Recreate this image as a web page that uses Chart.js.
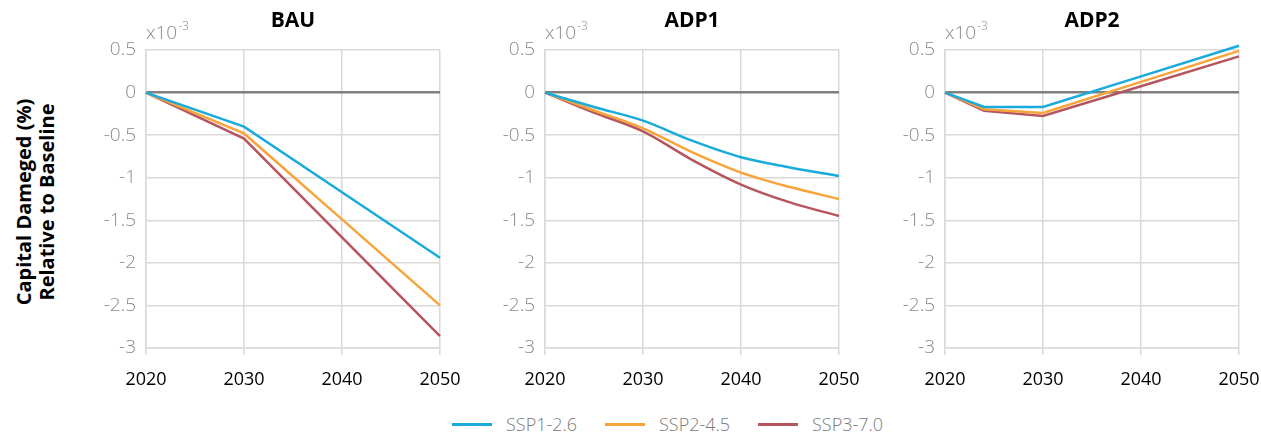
<!DOCTYPE html>
<html>
<head>
<meta charset="utf-8">
<script src="https://cdn.jsdelivr.net/npm/chart.js@4/dist/chart.umd.min.js"></script>
<style>
  body { margin: 0; background: #fff; font-family: "Open Sans", sans-serif; }
  #wrap { position: relative; width: 1261px; height: 435px; overflow: hidden; }
  canvas { position: absolute; top: 0; }
  #ytitle {
    position: absolute; left: -110px; top: 179px; width: 290px;
    transform: rotate(-90deg); text-align: center;
    font-weight: 700; font-size: 20px; line-height: 23px; color: #000;
  }
  #legend { position: absolute; left: 452px; top: 412px; display: flex; align-items: center; }
  .item { display: flex; align-items: center; width: 153px; }
  .swatch { width: 40px; height: 3px; margin-right: 14px; }
  .label { font-size: 18px; font-weight: 300; color: #7a7a7a; }
</style>
</head>
<body>
<div id="wrap">
  <div id="ytitle">Capital Dameged (%)<br>Relative to Baseline</div>
  <canvas id="c0" width="380" height="400"></canvas>
  <canvas id="c1" width="380" height="400"></canvas>
  <canvas id="c2" width="380" height="400"></canvas>
  <div id="legend"></div>
</div>
<script>
// scenarios and colours
const seriesNames = ['SSP1-2.6', 'SSP2-4.5', 'SSP3-7.0'];
const seriesColors = ['#19abdb', '#f8a43a', '#b5555f'];
const panelTitles = ['BAU', 'ADP1', 'ADP2'];

// values in units of 1e-3
const bauYears = [2020, 2030, 2040, 2050];
const bauSSP1 = [0, -0.40, -1.17, -1.94];
const bauSSP2 = [0, -0.48, -1.49, -2.50];
const bauSSP3 = [0, -0.54, -1.70, -2.86];

const adp1Years = [2020, 2025, 2030, 2035, 2040, 2045, 2050];
const adp1SSP1 = [0, -0.17, -0.33, -0.565, -0.76, -0.88, -0.98];
const adp1SSP2 = [0, -0.21, -0.42, -0.70, -0.94, -1.11, -1.25];
const adp1SSP3 = [0, -0.235, -0.455, -0.79, -1.08, -1.29, -1.45];

const adp2Years = [2020, 2024, 2030, 2040, 2050];
const adp2SSP1 = [0, -0.17, -0.17, 0.19, 0.55];
const adp2SSP2 = [0, -0.195, -0.24, 0.125, 0.49];
const adp2SSP3 = [0, -0.215, -0.275, 0.075, 0.425];

const yTicksMin = -3, yTicksMax = 0.5, yStep = 0.5;
const xTicks = [2020, 2030, 2040, 2050];

const plotLeft = [146, 545, 945];

const panelText = {
    id: 'panelText',
    afterDraw(chart, args, opts) {
        const ctx = chart.ctx;
        const area = chart.chartArea;
        ctx.save();
        ctx.fillStyle = '#000';
        ctx.font = 'bold 21px "Open Sans"';
        ctx.textAlign = 'center';
        ctx.textBaseline = 'middle';
        ctx.fillText(opts.title, (area.left + area.right) / 2, 21);
        ctx.fillStyle = '#8a8a8a';
        ctx.textAlign = 'left';
        ctx.textBaseline = 'alphabetic';
        ctx.font = '300 19px "Open Sans"';
        ctx.fillText('x10', area.left, 39);
        const w = ctx.measureText('x10').width;
        ctx.font = '300 12px "Open Sans"';
        ctx.fillText('-3', area.left + w + 1, 30);
        ctx.restore();
    }
};

function toPoints(xs, ys) {
    return xs.map((x, i) => ({x: x, y: ys[i]}));
}

function panelChart(idx, xs, rows, smooth) {
    const datasets = rows.map((ys, i) => ({
        label: seriesNames[i],
        data: toPoints(xs, ys),
        borderColor: seriesColors[i],
        borderWidth: 2.5,
        pointRadius: 0,
        fill: false,
        clip: false,
        cubicInterpolationMode: smooth ? 'monotone' : 'default',
        tension: 0
    }));
    const canvas = document.getElementById('c' + idx);
    canvas.style.left = (plotLeft[idx] - 66) + 'px';
    new Chart(canvas.getContext('2d'), {
        type: 'line',
        data: {datasets: datasets},
        plugins: [panelText],
        options: {
            responsive: false,
            animation: false,
            layout: {padding: {top: 50, right: 20, left: 0, bottom: 0}},
            plugins: {
                legend: {display: false},
                tooltip: {enabled: false},
                panelText: {title: panelTitles[idx]}
            },
            scales: {
                x: {
                    type: 'linear',
                    min: xTicks[0],
                    max: xTicks[xTicks.length - 1],
                    afterBuildTicks: s => { s.ticks = xTicks.map(v => ({value: v})); },
                    afterFit: s => { s.height = 52; s.paddingLeft = 0; s.paddingRight = 0; },
                    grid: {color: '#d9d9d9', lineWidth: 1.5, tickLength: 7},
                    border: {color: '#d9d9d9', width: 1.5},
                    ticks: {
                        color: '#000',
                        padding: 14,
                        font: {family: 'Open Sans', size: 18},
                        maxRotation: 0,
                        callback: v => String(v)
                    }
                },
                y: {
                    min: yTicksMin,
                    max: yTicksMax,
                    afterFit: s => { s.width = 66; },
                    grid: {
                        drawTicks: false,
                        color: c => c.tick && c.tick.value === 0 ? '#7f7f7f' : '#d9d9d9',
                        lineWidth: c => c.tick && c.tick.value === 0 ? 2.5 : 1.5
                    },
                    border: {color: '#d9d9d9', width: 1.5},
                    ticks: {
                        stepSize: yStep,
                        color: '#8a8a8a',
                        padding: 10,
                        font: {family: 'Open Sans', size: 19, weight: '300'},
                        callback: v => String(Math.round(v * 10) / 10)
                    }
                }
            }
        }
    });
}

panelChart(0, bauYears, [bauSSP1, bauSSP2, bauSSP3], false);
panelChart(1, adp1Years, [adp1SSP1, adp1SSP2, adp1SSP3], true);
panelChart(2, adp2Years, [adp2SSP1, adp2SSP2, adp2SSP3], false);

// legend built from the series list
const legend = document.getElementById('legend');
seriesNames.forEach((name, i) => {
    const item = document.createElement('div');
    item.className = 'item';
    item.innerHTML = '<div class="swatch" style="background:' + seriesColors[i] + '"></div><span class="label">' + name + '</span>';
    legend.appendChild(item);
});
</script>
</body>
</html>
